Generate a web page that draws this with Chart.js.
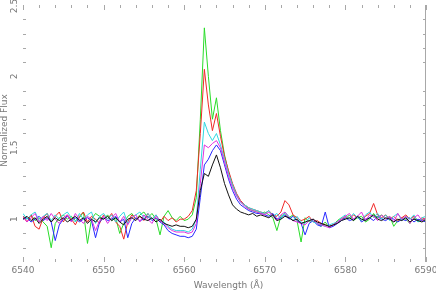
<!DOCTYPE html>
<html>
<head>
<meta charset="utf-8">
<script src="https://cdn.jsdelivr.net/npm/chart.js@4"></script>
<style>
  html, body { margin: 0; padding: 0; background: #fff; }
  #wrap { width: 436px; height: 291px; position: relative; }
</style>
</head>
<body>
<div id="wrap"><canvas id="spec"></canvas></div>
<script>
// wavelength grid (Å), 0.5 Å steps
const WAVELENGTH = [
  6540, 6540.5, 6541, 6541.5, 6542, 6542.5, 6543, 6543.5, 6544, 6544.5,
  6545, 6545.5, 6546, 6546.5, 6547, 6547.5, 6548, 6548.5, 6549, 6549.5,
  6550, 6550.5, 6551, 6551.5, 6552, 6552.5, 6553, 6553.5, 6554, 6554.5,
  6555, 6555.5, 6556, 6556.5, 6557, 6557.5, 6558, 6558.5, 6559, 6559.5,
  6560, 6560.5, 6561, 6561.5, 6562, 6562.5, 6563, 6563.5, 6564, 6564.5,
  6565, 6565.5, 6566, 6566.5, 6567, 6567.5, 6568, 6568.5, 6569, 6569.5,
  6570, 6570.5, 6571, 6571.5, 6572, 6572.5, 6573, 6573.5, 6574, 6574.5,
  6575, 6575.5, 6576, 6576.5, 6577, 6577.5, 6578, 6578.5, 6579, 6579.5,
  6580, 6580.5, 6581, 6581.5, 6582, 6582.5, 6583, 6583.5, 6584, 6584.5,
  6585, 6585.5, 6586, 6586.5, 6587, 6587.5, 6588, 6588.5, 6589, 6589.5, 6590
];

const FLUX_BLACK = [
  1.00, 1.02, 0.99, 1.01, 0.97, 1.00, 1.02, 0.98, 1.01, 0.99,
  1.01, 0.98, 1.00, 1.02, 0.99, 1.01, 0.97, 1.00, 0.98, 1.01,
  1.00, 1.02, 0.99, 1.01, 0.98, 0.96, 1.00, 1.01, 0.99, 1.02,
  1.00, 0.99, 1.01, 0.98, 1.00, 0.97, 0.96, 0.95, 0.96, 0.95,
  0.95, 0.94, 0.95, 1.00, 1.20, 1.32, 1.30, 1.38, 1.45, 1.36,
  1.25, 1.17, 1.10, 1.07, 1.05, 1.04, 1.03, 1.04, 1.02, 1.03,
  1.02, 1.01, 1.03, 0.99, 1.00, 1.02, 1.01, 0.99, 1.00, 0.97,
  0.98, 0.99, 1.00, 0.98, 0.97, 0.96, 0.95, 0.96, 0.97, 0.99,
  1.00, 1.01, 0.99, 1.02, 1.00, 0.99, 1.01, 1.03, 1.00, 0.99,
  1.01, 1.00, 0.98, 1.00, 0.99, 1.01, 0.98, 1.00, 0.99, 0.98, 1.00
];

const FLUX_RED = [
  1.02, 0.98, 1.03, 0.95, 0.93, 1.01, 1.04, 0.98, 1.02, 1.05,
  0.98, 1.03, 1.00, 0.96, 1.02, 1.05, 0.98, 1.02, 1.00, 0.97,
  1.03, 1.00, 1.04, 0.98, 0.95, 0.86, 0.98, 1.03, 1.00, 1.02,
  0.99, 1.04, 1.00, 1.03, 0.98, 1.02, 0.99, 1.01, 0.98, 1.00,
  1.00, 1.02, 1.06, 1.20, 1.60, 2.05, 1.80, 1.62, 1.74, 1.58,
  1.44, 1.34, 1.25, 1.18, 1.13, 1.10, 1.08, 1.07, 1.06, 1.05,
  1.04, 1.06, 1.03, 1.02, 1.05, 1.13, 1.10, 1.03, 1.01, 0.99,
  1.00, 1.02, 0.98, 0.99, 0.97, 0.96, 0.95, 0.96, 0.98, 1.00,
  1.02, 1.00, 1.03, 1.01, 0.99, 1.02, 1.04, 1.11, 1.03, 1.01,
  1.03, 1.00, 1.02, 0.99, 1.01, 1.03, 1.00, 1.02, 0.99, 1.01, 1.00
];

const FLUX_GREEN = [
  1.02, 1.00, 1.03, 0.99, 1.01, 0.98, 0.95, 0.80, 0.97, 1.01,
  1.03, 1.00, 1.02, 0.99, 1.01, 1.05, 0.83, 1.00, 1.04, 1.02,
  1.00, 1.03, 0.99, 1.01, 0.90, 0.97, 1.02, 1.04, 1.00, 1.03,
  1.05, 1.01, 1.04, 1.00, 0.89, 1.02, 1.06, 1.01, 0.99, 1.02,
  0.99, 1.00, 1.03, 1.15, 1.70, 2.34, 2.00, 1.70, 1.85, 1.62,
  1.45, 1.33, 1.24, 1.17, 1.12, 1.10, 1.07, 1.06, 1.05, 1.04,
  1.05, 1.03, 1.01, 0.92, 1.02, 1.04, 1.01, 1.03, 0.99, 0.84,
  1.01, 0.98, 1.00, 0.97, 0.95, 0.98, 0.94, 0.96, 0.99, 1.01,
  1.00, 1.03, 0.99, 1.01, 1.02, 0.98, 1.00, 1.04, 1.01, 1.03,
  1.00, 1.02, 0.95, 0.99, 1.01, 1.00, 0.97, 1.01, 0.98, 1.00, 0.99
];

const FLUX_BLUE = [
  1.00, 1.01, 0.98, 1.00, 1.02, 0.99, 1.01, 0.98, 0.85, 0.96,
  1.00, 1.02, 0.99, 1.01, 0.98, 1.00, 1.01, 0.99, 0.87, 0.98,
  1.01, 0.99, 1.00, 1.02, 0.98, 1.00, 0.87, 0.97, 1.01, 0.99,
  1.00, 1.02, 0.99, 1.01, 0.98, 0.96, 0.92, 0.90, 0.89, 0.88,
  0.88, 0.87, 0.88, 0.93, 1.15, 1.38, 1.42, 1.48, 1.52, 1.48,
  1.38, 1.28, 1.20, 1.14, 1.10, 1.08, 1.06, 1.05, 1.04, 1.04,
  1.03, 1.02, 1.04, 1.00, 1.01, 1.03, 1.00, 1.02, 0.99, 0.97,
  0.89, 0.97, 0.99, 0.96, 0.95, 1.05, 0.94, 0.95, 0.97, 0.99,
  1.01, 0.99, 1.00, 1.02, 0.98, 1.00, 1.01, 0.99, 1.02, 1.00,
  0.99, 1.01, 1.00, 0.98, 1.00, 0.99, 1.01, 0.98, 1.00, 0.99, 0.98
];

const FLUX_CYAN = [
  1.04, 1.00, 1.03, 1.05, 0.99, 1.02, 1.04, 0.99, 1.03, 1.00,
  1.03, 1.05, 1.01, 0.98, 1.04, 1.00, 1.03, 1.05, 0.97, 1.02,
  1.04, 1.00, 1.03, 0.98, 1.02, 1.05, 0.97, 1.01, 1.03, 1.05,
  1.01, 1.04, 1.00, 1.03, 0.99, 0.98, 0.95, 0.93, 0.92, 0.92,
  0.92, 0.91, 0.93, 1.00, 1.35, 1.68, 1.60, 1.55, 1.60, 1.52,
  1.42, 1.32, 1.24, 1.17, 1.12, 1.10, 1.08, 1.07, 1.06, 1.05,
  1.04, 1.06, 1.02, 1.04, 1.00, 1.05, 1.02, 0.99, 1.02, 0.98,
  0.97, 1.01, 0.98, 0.97, 0.96, 0.95, 0.96, 0.97, 0.98, 1.01,
  1.03, 1.00, 1.04, 1.01, 0.99, 1.03, 1.05, 1.01, 1.04, 1.00,
  1.03, 0.99, 1.02, 1.04, 0.99, 1.02, 1.00, 1.03, 0.98, 1.01, 1.02
];

const FLUX_MAGENTA = [
  1.02, 0.98, 1.01, 1.04, 0.98, 1.02, 0.99, 1.04, 1.00, 0.97,
  1.01, 1.03, 0.98, 1.04, 1.00, 0.97, 1.02, 1.00, 0.92, 0.99,
  1.02, 0.97, 1.01, 1.04, 0.98, 1.02, 0.96, 1.01, 1.03, 0.98,
  1.03, 1.00, 0.97, 1.02, 0.99, 0.97, 0.94, 0.92, 0.91, 0.91,
  0.91, 0.90, 0.91, 0.97, 1.25, 1.52, 1.50, 1.53, 1.55, 1.50,
  1.40, 1.30, 1.22, 1.16, 1.12, 1.09, 1.07, 1.06, 1.05, 1.04,
  1.03, 1.05, 1.02, 0.99, 1.03, 1.05, 1.01, 0.99, 0.98, 0.97,
  0.96, 0.99, 1.00, 0.97, 0.96, 0.95, 0.94, 0.96, 0.98, 1.00,
  1.02, 1.04, 1.00, 1.02, 1.05, 0.99, 1.03, 1.02, 0.99, 1.03,
  1.00, 1.02, 0.98, 1.04, 1.00, 1.02, 0.97, 1.01, 1.03, 0.99, 1.01
];

const X_MAJOR = [6540, 6550, 6560, 6570, 6580, 6590];
const X_MINOR = [6542, 6544, 6546, 6548, 6552, 6554, 6556, 6558, 6562, 6564, 6566, 6568,
  6572, 6574, 6576, 6578, 6582, 6584, 6586, 6588];
const Y_LABELS = [1, 1.5, 2, 2.5];
const Y_MINOR = [0.8, 0.9, 1.1, 1.2, 1.3, 1.4, 1.6, 1.7, 1.8, 1.9, 2.1, 2.2, 2.3, 2.4];

const X_TITLE = "Wavelength (Å)";
const Y_TITLE = "Normalized Flux";

const series = [
  { data: FLUX_BLACK, color: "#111111" },
  { data: FLUX_MAGENTA, color: "#e030e0" },
  { data: FLUX_CYAN, color: "#30d8e0" },
  { data: FLUX_BLUE, color: "#2828ff" },
  { data: FLUX_RED, color: "#f02828" },
  { data: FLUX_GREEN, color: "#28dc28" }
];

const toPoints = (values) => WAVELENGTH.map((w, i) => ({ x: w, y: values[i] }));

// ticks pointing inward + rotated y labels, drawn off the chart's own scales
const framePlugin = {
  id: "frame",
  afterDraw(chart) {
    const { ctx, chartArea: a, scales } = chart;
    const sx = scales.x;
    const sy = scales.y;
    const line = (x0, y0, x1, y1) => {
      ctx.beginPath();
      ctx.moveTo(x0, y0);
      ctx.lineTo(x1, y1);
      ctx.stroke();
    };
    ctx.save();
    ctx.strokeStyle = "#a8a8a8";
    ctx.lineWidth = 1;
    line(a.right - 0.5, a.top, a.right - 0.5, a.bottom);

    X_MINOR.forEach((v) => {
      const px = Math.round(sx.getPixelForValue(v)) + 0.5;
      line(px, a.top, px, a.top + 3);
      line(px, a.bottom - 3, px, a.bottom);
    });
    X_MAJOR.forEach((v) => {
      const px = Math.round(sx.getPixelForValue(v)) + 0.5;
      line(px, a.top, px, a.top + 5);
      line(px, a.bottom - 5, px, a.bottom);
    });
    Y_MINOR.forEach((v) => {
      const py = Math.round(sy.getPixelForValue(v)) + 0.5;
      line(a.left, py, a.left + 3, py);
      line(a.right - 3, py, a.right, py);
    });

    ctx.fillStyle = "#787878";
    ctx.font = "9px 'DejaVu Sans', sans-serif";
    ctx.textAlign = "center";
    ctx.textBaseline = "top";
    X_MAJOR.forEach((v) => {
      ctx.fillText(String(v), sx.getPixelForValue(v), a.bottom + 4);
    });
    ctx.fillText(X_TITLE, (a.left + a.right) / 2 + 4, a.bottom + 19);

    ctx.textBaseline = "middle";
    Y_LABELS.forEach((v) => {
      const py = Math.max(sy.getPixelForValue(v), 6);
      ctx.save();
      ctx.translate(15, py);
      ctx.rotate(-Math.PI / 2);
      ctx.fillText(String(v), 0, 0);
      ctx.restore();
    });
    ctx.save();
    ctx.translate(5, (a.top + a.bottom) / 2 - 3);
    ctx.rotate(-Math.PI / 2);
    ctx.fillText(Y_TITLE, 0, 0);
    ctx.restore();
    ctx.restore();
  }
};

new Chart(document.getElementById("spec"), {
  type: "line",
  data: {
    datasets: series.map((s) => ({
      data: toPoints(s.data),
      borderColor: s.color,
      borderWidth: 1,
      pointRadius: 0,
      tension: 0,
      fill: false
    }))
  },
  options: {
    responsive: true,
    maintainAspectRatio: false,
    animation: false,
    layout: { padding: { left: 23, right: 10, top: 5, bottom: 29 } },
    plugins: { legend: { display: false }, tooltip: { enabled: false } },
    scales: {
      x: { type: "linear", min: 6540, max: 6590, display: false },
      y: { type: "linear", min: 0.7, max: 2.5, display: false }
    }
  },
  plugins: [framePlugin]
});
</script>
</body>
</html>
